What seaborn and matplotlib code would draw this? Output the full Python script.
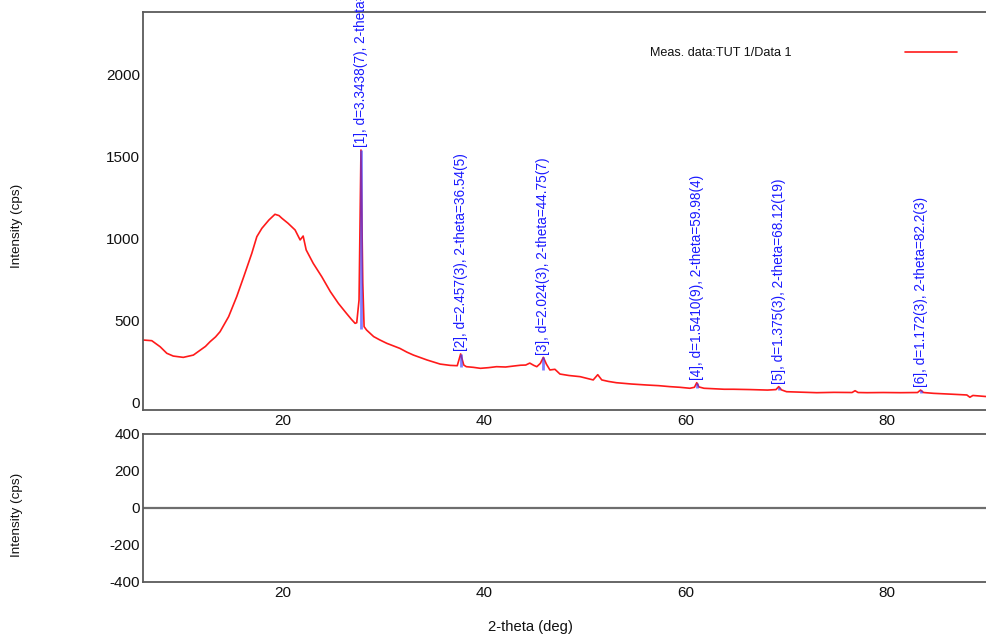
import matplotlib
matplotlib.use("Agg")
import matplotlib.pyplot as plt
import matplotlib.transforms as mtransforms
import seaborn as sns
import numpy as np
import pandas as pd

# Measured pattern (2-theta in degrees, intensity in cps)
two_theta = [
    5.03, 5.87, 6.7, 7.36, 8.0, 9.0, 10.0, 10.7, 11.2, 11.66, 12.2, 12.65, 13.5,
    14.3, 15.0, 15.8, 16.3, 16.8, 17.5, 18.1, 18.5, 18.8, 19.4, 20.1, 20.6, 20.9,
    21.2, 21.9, 22.75, 23.6, 24.4, 25.2, 25.7, 26.06, 26.22, 26.45, 26.64, 26.82,
    26.95, 27.2, 27.9, 28.5, 29.2, 30.5, 31.2, 31.85, 33.2, 34.5, 35.0, 35.5,
    36.2, 36.54, 36.85, 37.1, 37.8, 38.5, 39.3, 40.1, 41.0, 41.8, 42.5, 43.0,
    43.4, 43.8, 44.1, 44.45, 44.75, 45.05, 45.4, 45.9, 46.4, 47.3, 48.4, 49.7,
    50.15, 50.55, 51.2, 52.0, 53.5, 55.0, 56.2, 57.3, 58.3, 59.3, 59.75, 59.98,
    60.2, 60.7, 61.7, 62.7, 63.6, 65.3, 67.0, 67.85, 68.12, 68.4, 68.9, 70.4,
    71.9, 73.6, 75.4, 75.7, 76.0, 76.9, 78.5, 80.2, 81.9, 82.2, 82.5, 83.5, 85.2,
    86.8, 87.1, 87.4, 88.8,
]
intensity = [
    379, 375, 338, 298, 281, 273, 287, 318, 340, 369, 398, 430, 522,
    644, 766, 909, 1011, 1062, 1113, 1148, 1140, 1123, 1093, 1052, 991, 1015,
    930, 848, 766, 675, 603, 542, 505, 481, 485, 624, 1541, 728,
    461, 440, 400, 380, 359, 328, 305, 287, 257, 232, 228, 224,
    222, 294, 226, 216, 212, 206, 210, 216, 214, 220, 225, 226,
    238, 224, 216, 236, 273, 232, 196, 200, 171, 162, 155, 135,
    167, 135, 126, 118, 110, 104, 100, 94, 90, 84, 90, 118,
    92, 84, 81, 78, 78, 76, 73, 76, 94, 74, 63, 60,
    57, 59, 58, 69, 58, 57, 58, 57, 58, 73, 58, 53, 48,
    43, 29, 40, 33,
]

# Indexed reflections
peak_pos = [26.64, 36.54, 44.75, 59.98, 68.12, 82.2]
peak_top = [1541, 294, 273, 118, 94, 73]
peak_base = [447, 216, 196, 84, 73, 57]
peak_labels = [
    "[1], d=3.3438(7), 2-theta=26.638(6)",
    "[2], d=2.457(3), 2-theta=36.54(5)",
    "[3], d=2.024(3), 2-theta=44.75(7)",
    "[4], d=1.5410(9), 2-theta=59.98(4)",
    "[5], d=1.375(3), 2-theta=68.12(19)",
    "[6], d=1.172(3), 2-theta=82.2(3)",
]

# Difference curve (measured - calculated)
diff_theta = [5.0, 88.8]
diff_values = [0, 0]

x_ticks = [20, 40, 60, 80]
top_yticks = [0, 500, 1000, 1500, 2000]
bottom_yticks = [-400, -200, 0, 200, 400]

sns.set_theme(style="white")
plt.rcParams["font.family"] = ["Liberation Sans", "DejaVu Sans"]
plt.rcParams["axes.unicode_minus"] = False

fig = plt.figure(figsize=(9.87, 6.35), dpi=100)
ax = fig.add_axes([0.1449, 0.3543, 0.8551, 0.6268])
ax2 = fig.add_axes([0.1449, 0.0835, 0.8551, 0.2331])

red = "#ff1a1a"
blue = "#1a1aff"
spine_col = "#5a5a5a"

df = pd.DataFrame({"two_theta": two_theta, "intensity": intensity})
sns.lineplot(data=df, x="two_theta", y="intensity", ax=ax, color=red,
             linewidth=1.2, sort=False, estimator=None)
ax.vlines(peak_pos, peak_base, peak_top, color="#3c3cff", alpha=0.65,
          linewidth=2.0, zorder=3)

for pos, top, lab in zip(peak_pos, peak_top, peak_labels):
    ax.annotate(lab, xy=(pos, top), xytext=(0, 2), textcoords="offset points",
                rotation=90, ha="center", va="bottom", color=blue,
                fontsize=9.8, annotation_clip=False, clip_on=False)

ddf = pd.DataFrame({"two_theta": diff_theta, "diff": diff_values})
sns.lineplot(data=ddf, x="two_theta", y="diff", ax=ax2, color="#6e6e6e",
             linewidth=1.6, sort=False, estimator=None)

for a in (ax, ax2):
    a.set_xlim(5.0, 88.8)
    a.set_xticks(x_ticks)
    a.set_xticklabels([str(t) for t in x_ticks])
    a.set_xlabel("")
    a.set_ylabel("")
    a.spines["right"].set_visible(False)
    for s in ("left", "top", "bottom"):
        a.spines[s].set_color(spine_col)
        a.spines[s].set_linewidth(1.3)
    a.tick_params(axis="both", direction="in", length=2, width=0.8,
                  color="#222222", labelsize=11, labelcolor="#111111",
                  pad=2)
    a.tick_params(axis="x", pad=3)
    a.grid(False)
    # tick labels sit slightly to the left of their ticks
    off = mtransforms.ScaledTranslation(-11 / 100, 0, fig.dpi_scale_trans)
    for lbl in a.get_xticklabels():
        lbl.set_transform(lbl.get_transform() + off)

ax.set_ylim(-49, 2385)
ax.set_yticks(top_yticks)
ax2.set_ylim(-400, 400)
ax2.set_yticks(bottom_yticks)

# legend entry
ax.text(0.6007, 0.897, "Meas. data:TUT 1/Data 1", transform=ax.transAxes,
        fontsize=9.1, color="#111111", ha="left", va="center")
ax.plot([0.9028, 0.9645], [0.8995, 0.8995], transform=ax.transAxes,
        color=red, linewidth=1.2)

fig.text(17 / 987, 1 - 226 / 635, "Intensity (cps)", rotation=90,
         ha="center", va="center", fontsize=9.7, color="#111111")
fig.text(17 / 987, 1 - 515 / 635, "Intensity (cps)", rotation=90,
         ha="center", va="center", fontsize=9.7, color="#111111")
fig.text(530 / 987, 1 - 627 / 635, "2-theta (deg)", ha="center",
         va="center", fontsize=10.6, color="#111111")

fig.savefig("out.png", dpi=100, facecolor="white")
